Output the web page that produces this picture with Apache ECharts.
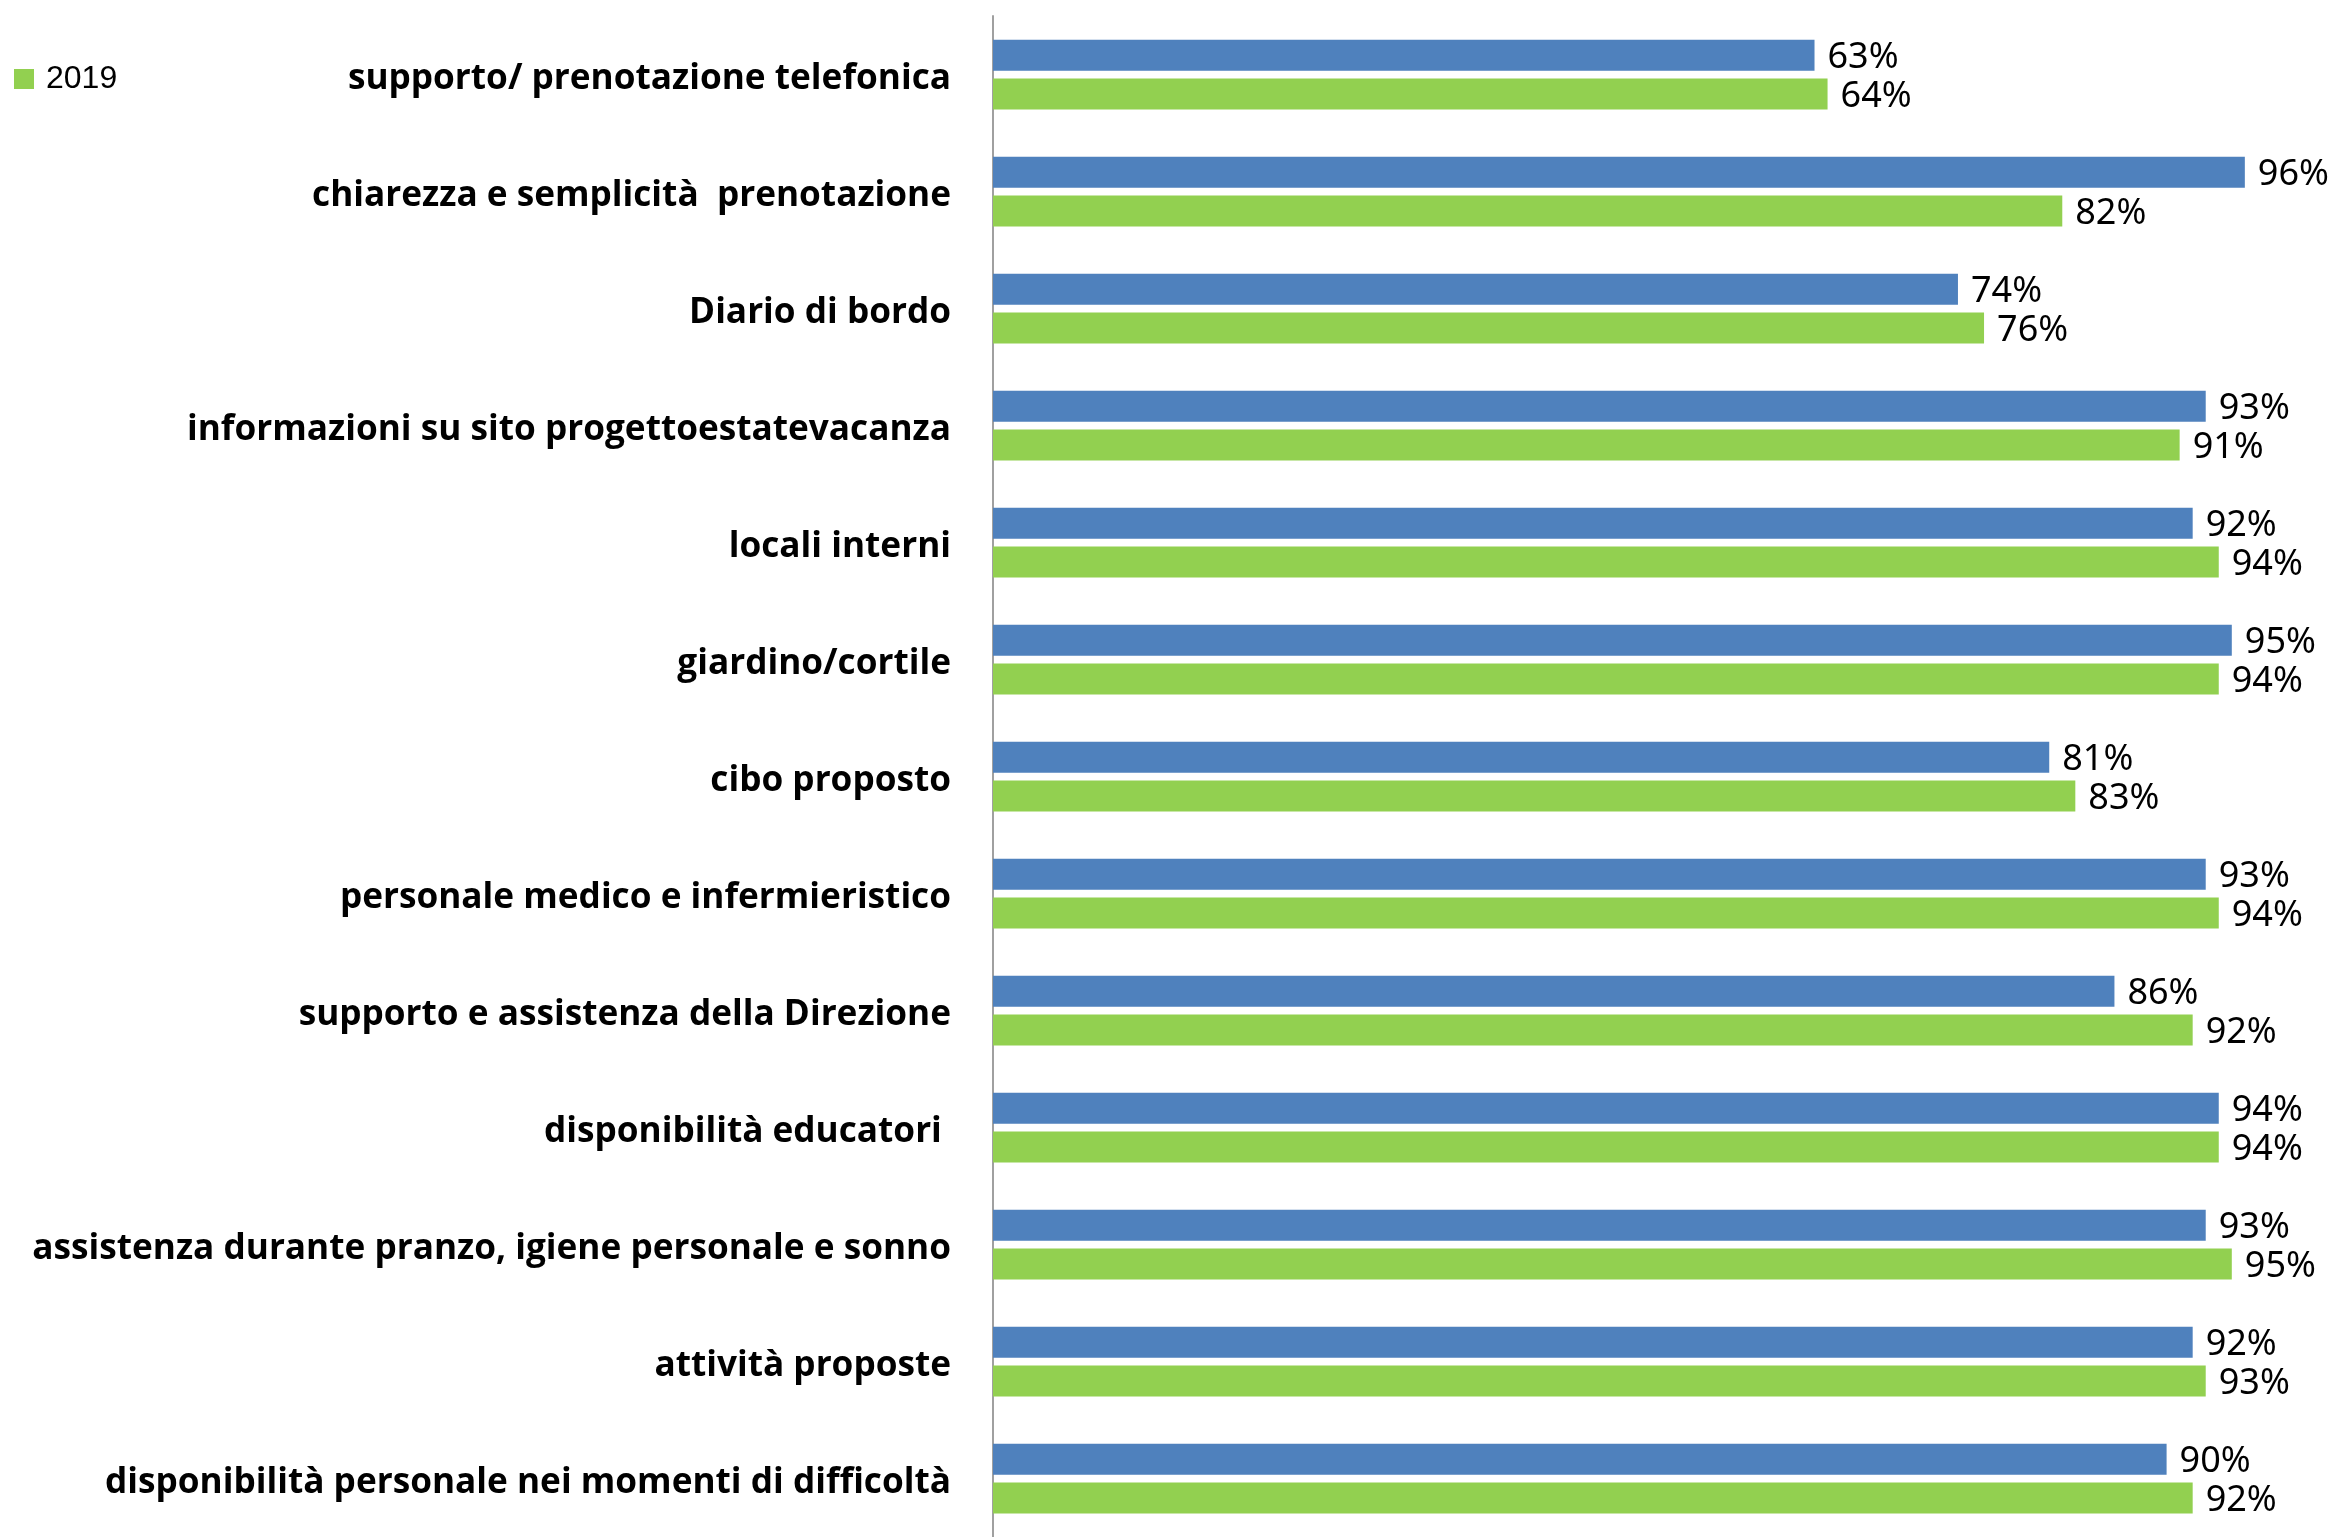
<!DOCTYPE html>
<html>
<head>
<meta charset="utf-8">
<script src="https://cdn.jsdelivr.net/npm/echarts@6/dist/echarts.min.js"></script>
<style>
html,body{margin:0;padding:0;background:#fff;}
#chart{width:2339px;height:1537px;}
</style>
</head>
<body>
<div id="chart"></div>
<script>
const categories = [
  'supporto/ prenotazione telefonica',
  'chiarezza e semplicità  prenotazione',
  'Diario di bordo',
  'informazioni su sito progettoestatevacanza',
  'locali interni',
  'giardino/cortile',
  'cibo proposto',
  'personale medico e infermieristico',
  'supporto e assistenza della Direzione',
  'disponibilità educatori ',
  'assistenza durante pranzo, igiene personale e sonno',
  'attività proposte',
  'disponibilità personale nei momenti di difficoltà'
];
const seriesNames = ['2018', '2019'];
const valuesBlue = [63, 96, 74, 93, 92, 95, 81, 93, 86, 94, 93, 92, 90];
const valuesGreen = [64, 82, 76, 91, 94, 94, 83, 94, 92, 94, 95, 93, 92];
const legendItems = ['2019'];

const chart = echarts.init(document.getElementById('chart'));
const valueLabel = {
  show: true,
  position: 'right',
  distance: 13,
  offset: [0, 3],
  formatter: '{c}%',
  color: '#000',
  fontFamily: 'Noto Sans, Open Sans, sans-serif',
  fontSize: 36
};
chart.setOption({
  backgroundColor: '#fff',
  animation: false,
  legend: {
    data: legendItems,
    left: 14,
    top: 63,
    padding: 0,
    icon: 'rect',
    itemWidth: 20,
    itemHeight: 20,
    textStyle: {
      color: '#000',
      fontFamily: 'Liberation Sans, Arial, sans-serif',
      fontSize: 32,
      padding: [0, 0, 0, 7]
    }
  },
  grid: {
    left: 993,
    right: 42,
    top: 16,
    height: 1531,
    containLabel: false
  },
  xAxis: {
    type: 'value',
    min: 0,
    max: 100,
    show: false,
    splitLine: { show: false }
  },
  yAxis: {
    type: 'category',
    data: categories,
    inverse: true,
    axisLine: { show: true, lineStyle: { color: '#a0a0a0', width: 2 } },
    axisTick: { show: false },
    axisLabel: {
      margin: 42,
      formatter: function (v) { return '{l|' + v + '}'; },
      rich: {
        l: {
          color: '#000',
          fontWeight: 'bold',
          fontFamily: 'Open Sans, sans-serif',
          fontSize: 35.2,
          padding: [8, 0, 0, 0]
        }
      }
    }
  },
  series: [
    {
      name: seriesNames[0],
      type: 'bar',
      data: valuesBlue,
      barWidth: 31,
      barGap: '25%',
      itemStyle: { color: '#4F81BD' },
      label: valueLabel
    },
    {
      name: seriesNames[1],
      type: 'bar',
      data: valuesGreen,
      barWidth: 31,
      barGap: '25%',
      itemStyle: { color: '#92D050' },
      label: valueLabel
    }
  ]
});
</script>
</body>
</html>
